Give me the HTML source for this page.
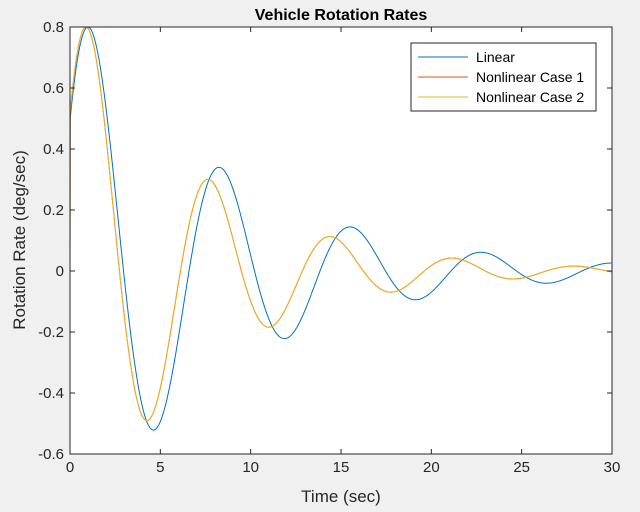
<!DOCTYPE html>
<html><head><style>
body{margin:0;background:#f0f0f0;}
svg{display:block;font-family:"Liberation Sans",sans-serif;}
</style></head><body>
<svg id="s" width="640" height="512" xmlns="http://www.w3.org/2000/svg">
<rect width="640" height="512" fill="#f0f0f0"/>
<rect x="70" y="27" width="542" height="427" fill="#fff"/>
<g id="curves" fill="none" stroke-width="1"></g>
<rect x="70" y="27" width="542" height="427" fill="none" stroke="#262626" stroke-width="1"/>
<g id="ticks" stroke="#262626" stroke-width="1"></g>
<g id="labels" font-size="15" fill="#262626"></g>
<text x="341" y="20" font-size="16" font-weight="bold" text-anchor="middle" fill="#000">Vehicle Rotation Rates</text>
<text x="341" y="502" font-size="17" text-anchor="middle" fill="#262626">Time (sec)</text>
<text transform="translate(25,240) rotate(-90)" font-size="17" text-anchor="middle" fill="#262626">Rotation Rate (deg/sec)</text>
<rect x="411" y="43" width="185" height="68" fill="#fff" stroke="#262626"/>
<line x1="418" y1="57" x2="468" y2="57" stroke="#0072BD"/>
<line x1="418" y1="77" x2="468" y2="77" stroke="#D95319"/>
<line x1="418" y1="97" x2="468" y2="97" stroke="#EDB120"/>
<text x="476" y="62" font-size="14" fill="#000">Linear</text>
<text x="476" y="82" font-size="14" fill="#000">Nonlinear Case 1</text>
<text x="476" y="102" font-size="14" fill="#000">Nonlinear Case 2</text>
</svg>
<script>
var X=function(t){return 70+t*542/30},Y=function(v){return 27+(0.8-v)*305};
function path(om,sig,t0,col){
 var f=function(t){return Math.exp(-sig*t)*Math.cos(om*(t-t0));};
 var mx=0;for(var t=0;t<5;t+=0.005){mx=Math.max(mx,f(t));}
 var A=0.8/mx,d="M"+X(0)+","+Y(0);
 for(var t=0.01;t<=30.0001;t+=0.05){d+=" L"+X(t).toFixed(2)+","+Y(A*f(t)).toFixed(2);}
 var p=document.createElementNS("http://www.w3.org/2000/svg","path");p.setAttribute("d",d);p.setAttribute("stroke",col);
 document.getElementById("curves").appendChild(p);
}
path(2*Math.PI/7.25,0.118,1.15,"#0072BD");
path(2*Math.PI/6.75,0.145,1.05,"#D95319");
path(2*Math.PI/6.75,0.145,1.05,"#EDB120");
var tk=document.getElementById("ticks"),lb=document.getElementById("labels"),ns="http://www.w3.org/2000/svg";
function ln(a,b,c,d){var l=document.createElementNS(ns,"line");l.setAttribute("x1",a);l.setAttribute("y1",b);l.setAttribute("x2",c);l.setAttribute("y2",d);tk.appendChild(l);}
function tx(x,y,s,anc){var t=document.createElementNS(ns,"text");t.setAttribute("x",x);t.setAttribute("y",y);t.setAttribute("text-anchor",anc);t.textContent=s;lb.appendChild(t);}
for(var i=0;i<=6;i++){var x=X(i*5);ln(x,454,x,449);ln(x,27,x,32);tx(x,472,""+i*5,"middle");}
var ys=["0.8","0.6","0.4","0.2","0","-0.2","-0.4","-0.6"];
for(var j=0;j<8;j++){var v=0.8-0.2*j,y=Y(v);ln(70,y,75,y);ln(612,y,607,y);tx(64,y+5,ys[j],"end");}
</script>
</body></html>
